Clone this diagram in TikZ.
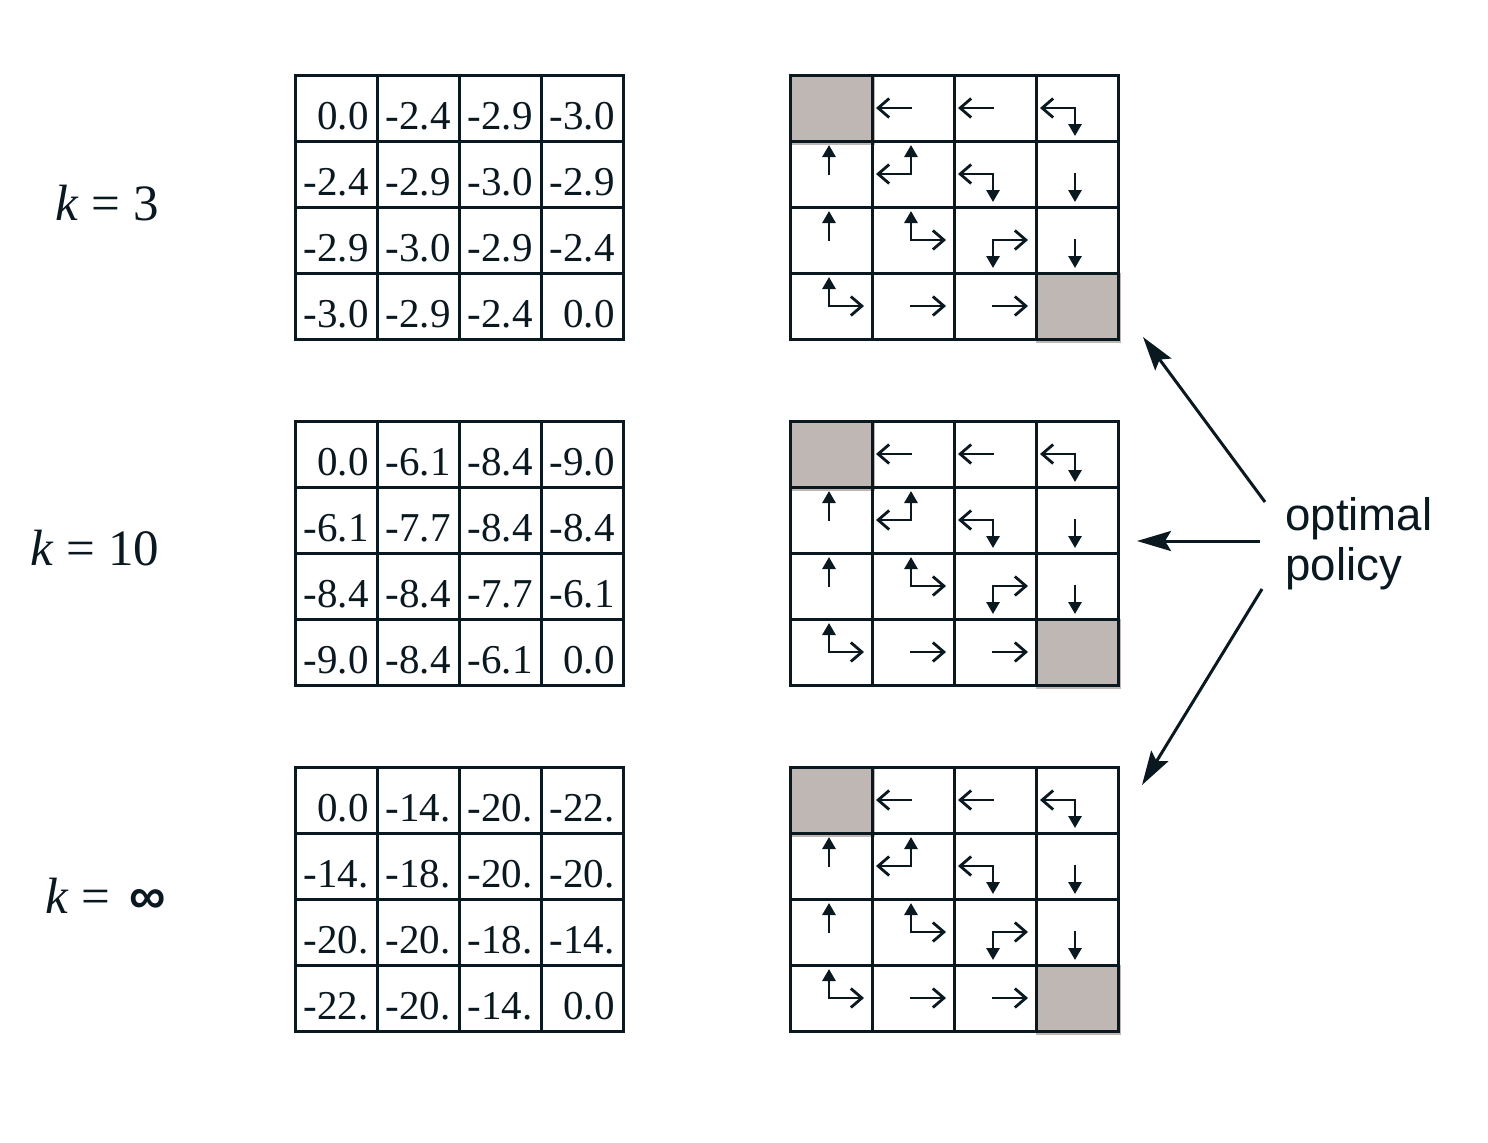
\documentclass[tikz,border=0pt]{standalone}
\usepackage{fontspec}
\setmainfont{Liberation Serif}
\newfontfamily\sansf{Liberation Sans}
\usetikzlibrary{arrows.meta}
\definecolor{ink}{RGB}{10,24,32}
\definecolor{term}{RGB}{191,183,180}
\tikzset{
  gridline/.style={draw=ink, line width=1.5pt, line cap=rect},
  num/.style={inner sep=0pt, anchor=base east, font=\fontsize{20.5}{24}\selectfont, text=ink},
  klab/.style={inner sep=0pt, anchor=base west, font=\fontsize{25.5}{30}\selectfont, text=ink},
  ptext/.style={inner sep=0pt, anchor=base west, font=\sansf\fontsize{22.8}{26}\selectfont, text=ink},
  harr/.style={draw=ink, line width=1.4pt, line cap=rect, -{Straight Barb[length=5.5pt,width=9.5pt]}},
  varr/.style={draw=ink, line width=1.4pt, line cap=rect, -{Triangle[length=6pt,width=6.5pt]}},
  bigarr/.style={draw=ink, line width=1.5pt, -{Stealth[length=17pt,width=10pt,inset=3pt]}},
}
\newcommand{\vrow}[3]{%
  \foreach \v [count=\c from 0] in {#3} {%
    \node[num] (v-#1-#2-\c) at ({295+82*\c+74},{#1+66*#2+54}) {\v};}}
\newcommand{\gridlines}[2]{% #1 left x, #2 top y
  \foreach \i in {1,2,3} {%
    \draw[gridline] ({#1+82*\i},#2) -- ({#1+82*\i},{#2+264});
    \draw[gridline] (#1,{#2+66*\i}) -- ({#1+328},{#2+66*\i});}
  \draw[gridline, line join=miter] (#1,#2) rectangle ({#1+328},{#2+264});}
\newcommand{\goL}[1]{\draw[harr] (#1) -- ++(-35,0);}
\newcommand{\goR}[1]{\draw[harr] (#1) -- ++(35,0);}
\newcommand{\goU}[1]{\draw[varr] (#1) -- ++(0,-29);}
\newcommand{\goD}[1]{\draw[varr] (#1) -- ++(0,28);}
\newcommand{\pcell}[4]{% #1 top, #2 row, #3 col, #4 directions
  \coordinate (p-#1-#2-#3) at ({790+82*#3+39},{#1+66*#2+33});
  \foreach \d in {#4} {\csname go\d\endcsname{p-#1-#2-#3}}}
\newcommand{\policy}[1]{% #1 top y
  \fill[term] (790,#1) rectangle ++(85,70);
  \fill[term] (1036,{#1+198}) rectangle ++(85,70);
  \gridlines{790}{#1}
  \pcell{#1}{0}{1}{L}\pcell{#1}{0}{2}{L}\pcell{#1}{0}{3}{L,D}
  \pcell{#1}{1}{0}{U}\pcell{#1}{1}{1}{L,U}\pcell{#1}{1}{2}{L,D}\pcell{#1}{1}{3}{D}
  \pcell{#1}{2}{0}{U}\pcell{#1}{2}{1}{U,R}\pcell{#1}{2}{2}{D,R}\pcell{#1}{2}{3}{D}
  \pcell{#1}{3}{0}{U,R}\pcell{#1}{3}{1}{R}\pcell{#1}{3}{2}{R}}
\begin{document}
\begin{tikzpicture}[x=0.5pt,y=-0.5pt]
\useasboundingbox[fill=white] (0,0) rectangle (1488,1142);

% value grids
\gridlines{295}{75}
\vrow{75}{0}{0.0,-2.4,-2.9,-3.0}
\vrow{75}{1}{-2.4,-2.9,-3.0,-2.9}
\vrow{75}{2}{-2.9,-3.0,-2.9,-2.4}
\vrow{75}{3}{-3.0,-2.9,-2.4,0.0}

\gridlines{295}{421}
\vrow{421}{0}{0.0,-6.1,-8.4,-9.0}
\vrow{421}{1}{-6.1,-7.7,-8.4,-8.4}
\vrow{421}{2}{-8.4,-8.4,-7.7,-6.1}
\vrow{421}{3}{-9.0,-8.4,-6.1,0.0}

\gridlines{295}{767}
\vrow{767}{0}{0.0,-14.,-20.,-22.}
\vrow{767}{1}{-14.,-18.,-20.,-20.}
\vrow{767}{2}{-20.,-20.,-18.,-14.}
\vrow{767}{3}{-22.,-20.,-14.,0.0}

% policy grids
\policy{75}
\policy{421}
\policy{767}

% k labels
\node[klab] (k3) at (55,220) {\textit{k} = 3};
\node[klab] (k10) at (30,565) {\textit{k} = 10};
\node[klab] (kinf) at (45,913) {\textit{k} = \hspace{0.12em}{\sansf\bfseries ∞}};

% optimal policy
\node[ptext] (opt1) at (1285,530) {optimal};
\node[ptext] (opt2) at (1285,580) {policy};
\coordinate (s1) at (1265,502);
\coordinate (s2) at (1260,541);
\coordinate (s3) at (1262,589);
\coordinate (t1) at (1143,337);
\coordinate (t2) at (1137,541);
\coordinate (t3) at (1142,785);
\draw[bigarr] (s1) -- (t1);
\draw[bigarr] (s2) -- (t2);
\draw[bigarr] (s3) -- (t3);
\end{tikzpicture}
\end{document}
